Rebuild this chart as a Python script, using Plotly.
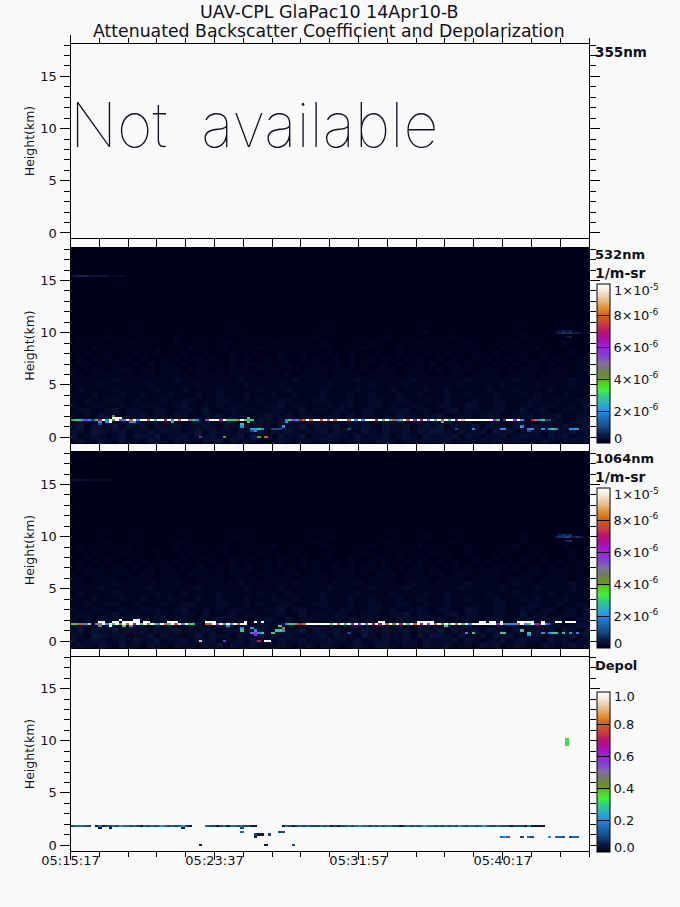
import numpy as np
import plotly.graph_objects as go

# time axis, seconds after 05:15:17
time_ticks = [0, 500, 1000, 1500]
time_labels = ["05:15:17", "05:23:37", "05:31:57", "05:40:17"]
height_ticks = [0, 5, 10, 15]

# colour table
color_stops = [
    [0.00, "#00001a"], [0.05, "#0a1a40"], [0.10, "#154a80"], [0.17, "#1c74c8"],
    [0.20, "#2090f0"], [0.25, "#30b0c0"], [0.30, "#30d080"], [0.33, "#40f040"],
    [0.38, "#50d020"], [0.40, "#60a010"], [0.45, "#708050"], [0.50, "#806fa0"],
    [0.55, "#8040d0"], [0.60, "#a020e0"], [0.65, "#a810b0"], [0.70, "#b81070"],
    [0.75, "#c84040"], [0.80, "#d06010"], [0.85, "#e09030"], [0.90, "#e8c090"],
    [0.95, "#f4e4d0"], [1.00, "#ffffff"],
]

# end labels of the colour bars sit inside the bar ends, so they are annotations further down
backscatter_ticks = [0, 2, 4, 6, 8, 10]
backscatter_labels = ["", "2×10<sup>-6</sup>", "4×10<sup>-6</sup>", "6×10<sup>-6</sup>", "8×10<sup>-6</sup>", ""]
depol_ticks = [0, 0.2, 0.4, 0.6, 0.8, 1.0]
depol_labels = ["", "0.2", "0.4", "0.6", "0.8", ""]

# faint background, 24 s x 0.5 km blocks, units of 1e-7, from -0.5 km upward
background_rows = [
    "232132142213221322132413223112321231322123213321221322312213231232113212323",
    "312321231322412231323122314221322312232213122312321322231321223123221323122",
    "321432231223132212413221322413232122313221421322313243213223142312231322413",
    "241322413231322312232132231321322413223122321322312324132231322131232213213",
    "132213221321223112312232112321322132211232212322113221322312231132212321232",
    "212132112231221321122312211232131221122131221213221223112212321122312231122",
    "122112312211221122131122122112211312212211221122312211231221122113122112212",
    "211221121122211231121212211122312211121221122121122112211321122112212211213",
    "112112211211121122111221121211221112211121122112211211211121122111221121122",
    "111211121121112111211211121112112111211121121112112111211211121112121112111",
    "121111211111211121111211111211121111211112111121111211211111211121111211112",
    "111121111112111111211111121111211111121111121111211111112111112111121111211",
    "111111211111111211111111211111112111111112111111121111111211111121111111211",
    "110111101111011110111101111011110111101111011110111101111011110111101111011",
    "101110111011011101110101110111011011101110101110111011011101110101110111011",
    "011010110101011010110101011010110101011010110101011010110101011010110101010",
    "010101001010010100101001010010100101001010010100101001010010100101001010010",
    "001001000100100010010001001000100100010010001001000100100010010001001000100",
    "000100010000100001000010000100001000010000100001000010000100001000010000100",
    "010000001000000100000010000001000000100000010000001000000100000010000001000",
    "000001000000000100000000010000000001000000000100000000010000000001000000000",
    "000000000100000000000001000000000000010000000000000100000000000001000000000",
]

# very faint features, level 1 = 2e-7
faint_532 = {
    15.4: [(0, "2333322222211111")],
    10.2: [(141, "2323")],
    10.0: [(140, "23434232")],
    9.6: [(143, "23")],
}
faint_1064 = {
    15.4: [(0, "222211111111")],
    10.2: [(141, "3434")],
    10.0: [(140, "34454343")],
    9.6: [(143, "34")],
}

# layer cells, 12 s x 0.2 km, {height: [(first profile, levels)]}, level 0-a in 1e-6 units
rows_532 = {
    2.0: [(12, "4")],
    1.8: [(12, "aa5"), (51, "3"), (14, "a")],
    1.6: [(0, "4332621"), (7, "37a2a4a62a8a2aa8a3aa7a2a8aa532"), (39, "6aaa7a3338a"), (50, "353"),
          (62, "236278a8aa8a8a8aaa8a2a2aaa7a3a3823a8a6a7a2a3a8a3a7a9aa2a3"),
          (116, "aaaaaa"), (122, "63"), (125, "1aa6a2"), (133, "78231"), (138, "1")],
    1.4: [(8, "2"), (10, "2a"), (17, "22"), (29, "3"), (51, "3"), (62, "2"), (107, "3")],
    1.2: [(49, "3"), (8, "1")],
    1.0: [(49, "2"), (61, "2"), (130, "2")],
    0.8: [(52, "2232"), (58, "1"), (59, "11"), (80, "1"), (111, "1"), (116, "2"), (124, "22"),
          (132, "22"), (136, "2"), (138, "232"), (144, "222")],
    0.6: [(52, "12"), (132, "1")],
    0.0: [(37, "7"), (44, "4"), (54, "4"), (56, "8")],
}
rows_1064 = {
    2.0: [(14, "a"), (18, "a"), (19, "a")],
    1.8: [(8, "aa"), (12, "aa"), (15, "aaaaa"), (21, "aa"), (28, "aaa"), (39, "aaa"), (50, "a"), (53, "a"),
          (55, "a"), (89, "aa"), (100, "aaaaa"), (118, "aa"), (121, "aa"), (124, "a"), (129, "aaa"),
          (132, "aa"), (136, "a"), (140, "aa"), (143, "aaa")],
    1.6: [(0, "338829"), (7, "28a2a3a4a8a7a3a4a32a83a8a2a33"), (39, "88a6a2a2a8a6"), (50, "a"),
          (62, "233878aaaaa"), (73, "aa3a8a3a7a6a2a7a7a8a4a7a3a8a7a6a8a4a3a8a3a2a7"),
          (117, "aaaaaa"), (123, "6a2"), (126, "2228a2"), (132, "3a67a21")],
    1.4: [(8, "2"), (11, "a"), (15, "3"), (17, "2"), (45, "2"), (60, "3"), (108, "3")],
    1.2: [(49, "2"), (52, "2"), (61, "8")],
    1.0: [(49, "3"), (53, "2"), (59, "33"), (61, "2"), (130, "3")],
    0.8: [(52, "26"), (54, "23"), (58, "3"), (80, "1"), (114, "2"), (116, "3"), (124, "33"),
          (132, "3"), (136, "2"), (138, "23"), (140, "3"), (142, "3"), (144, "2"), (146, "2")],
    0.6: [(53, "6"), (132, "2")],
    0.0: [(37, "9"), (44, "6"), (54, "7"), (56, "aa")],
}
# depol cells, level 1 = 0.05
rows_depol = {
    10.2: [(143, "7")],
    10.0: [(143, "7")],
    9.8: [(143, "6")],
    9.6: [(143, "7")],
    1.8: [(0, "233322"), (7, "1312232433232132323432323421"), (39, "322123133232211"),
          (61, "13212323222"), (72, "32312122323433232323322123232343323232324323323432232343323232"),
          (125, "2212221"), (133, "1111")],
    1.6: [(8, "1"), (11, "1"), (32, "1"), (49, "2")],
    1.2: [(49, "3"), (60, "22")],
    1.0: [(53, "21"), (55, "1"), (57, "2")],
    0.8: [(53, "1"), (124, "343"), (130, "2"), (132, "32"), (138, "4"), (140, "332"), (144, "233")],
    0.0: [(37, "1"), (56, "1"), (64, "2")],
}

n_profiles = 150
profile_time = [i * 12 + 6 for i in range(n_profiles)]
gate_height = [-0.4 + i * 0.2 for i in range(94)]


def cells_to_grid(rows, scale):
    z = np.full((len(gate_height), n_profiles), np.nan)
    for height, segments in rows.items():
        row = int(round((height + 0.4) / 0.2))
        for start, levels in segments:
            for k, level in enumerate(levels):
                z[row, start + k] = int(level, 16) * scale
    return z


# background grid, padded with zero rows up to the panel top
bg_time = [i * 24 + 12 for i in range(75)]
bg_height = [-0.5 + i * 0.5 for i in range(39)]
bg_z = [[int(c) * 0.1 for c in r] for r in background_rows]
bg_z += [[0.0] * 75 for i in range(len(bg_height) - len(bg_z))]

# pixel layout of the four panels
W, H = 680, 907
px_left, px_right = 70.5, 589
panel_px = [(44, 238), (248, 443), (452, 648), (657, 851)]
panel_range = [(-0.48, 18.1), (-0.57, 18.12), (-0.67, 18.12), (-0.57, 18.03)]


def fx(px):
    return px / W


def fy(py):
    return 1 - py / H


fig = go.Figure()


def colorbar(top_px, bottom_px, ticks, labels):
    return dict(x=fx(596.5), xanchor="left", y=fy(bottom_px), yanchor="bottom",
                len=bottom_px - top_px, lenmode="pixels", thickness=13, thicknessmode="pixels",
                xpad=0, ypad=0, outlinecolor="black", outlinewidth=1, tickmode="array",
                tickvals=ticks, ticktext=labels, ticks="inside", ticklen=13, tickcolor="black",
                tickwidth=1, tickfont=dict(family="DejaVu Sans", size=13, color="#101020"))


# panel 1 has no data
fig.add_trace(go.Scatter(x=[], y=[], xaxis="x", yaxis="y", showlegend=False))

panels = [(rows_532, faint_532, 284, 443), (rows_1064, faint_1064, 488, 648)]
for n, (rows, faint, top_px, bottom_px) in enumerate(panels):
    axis = str(n + 2)
    layer_z = cells_to_grid(rows, 1)
    layer_z = np.where(np.isnan(layer_z), cells_to_grid(faint, 0.2), layer_z)
    fig.add_trace(go.Heatmap(x=bg_time, y=bg_height, z=bg_z, zmin=0, zmax=10, colorscale=color_stops,
                             showscale=False, xaxis="x" + axis, yaxis="y" + axis))
    fig.add_trace(go.Heatmap(x=profile_time, y=gate_height, z=layer_z, zmin=0, zmax=10,
                             colorscale=color_stops, xaxis="x" + axis, yaxis="y" + axis,
                             colorbar=colorbar(top_px, bottom_px, backscatter_ticks, backscatter_labels)))

fig.add_trace(go.Heatmap(x=profile_time, y=gate_height, z=cells_to_grid(rows_depol, 0.05), zmin=0, zmax=1,
                         colorscale=color_stops, xaxis="x4", yaxis="y4",
                         colorbar=colorbar(692, 852, depol_ticks, depol_labels)))

layout = dict(width=W, height=H, paper_bgcolor="#fafafa", plot_bgcolor="#fafafa", showlegend=False,
              margin=dict(l=0, r=0, t=0, b=0, autoexpand=False))

for n in range(4):
    suffix = "" if n == 0 else str(n + 1)
    top_px, bottom_px = panel_px[n]
    layout["xaxis" + suffix] = dict(
        domain=[fx(px_left), fx(px_right)], range=[0, 1800], anchor="y" + suffix,
        tickmode="array", tickvals=time_ticks, ticktext=time_labels, showticklabels=n == 3,
        ticks="outside", ticklen=8, tickwidth=1, tickcolor="black", showline=True, linecolor="black",
        linewidth=1, mirror="ticks", showgrid=False, zeroline=False, ticklabelstandoff=-11,
        tickfont=dict(family="DejaVu Sans", size=13, color="#101020"),
        minor=dict(tickmode="linear", tick0=0, dtick=100, ticks="outside", ticklen=5, tickwidth=1,
                   tickcolor="black", showgrid=False))
    layout["yaxis" + suffix] = dict(
        domain=[fy(bottom_px), fy(top_px)], range=list(panel_range[n]), anchor="x" + suffix,
        tickmode="array", tickvals=height_ticks, ticks="outside", ticklen=10, tickwidth=1,
        tickcolor="black", showline=True, linecolor="black", linewidth=1, mirror="ticks",
        showgrid=False, zeroline=False, title=dict(text="Height(km)", standoff=2,
        font=dict(family="DejaVu Sans", size=12.5, color="#101020")),
        tickfont=dict(family="DejaVu Sans", size=13, color="#101020"),
        minor=dict(tickmode="linear", tick0=0, dtick=1, ticks="outside", ticklen=6, tickwidth=1,
                   tickcolor="black", showgrid=False))


def label(text, px, py, size, anchor="left", family="DejaVu Sans", weight=None):
    return dict(text=text, x=fx(px), y=fy(py), xref="paper", yref="paper", xanchor=anchor, yanchor="middle",
                showarrow=False, font=dict(family=family, size=size, color="#101020", weight=weight))


layout["annotations"] = [
    label("UAV-CPL GlaPac10 14Apr10-B", 329, 12, 17.5, "center"),
    label("Attenuated Backscatter Coefficient and Depolarization", 329, 31, 17.3, "center"),
    label("Not  available", 68, 125, 61, family="Inter", weight=100),
    label("355nm", 593, 52, 13.5, weight=700),
    label("532nm", 593, 254, 13, weight=700),
    label("1/m-sr", 593, 273, 14, weight=700),
    label("1064nm", 593, 458, 13, weight=700),
    label("1/m-sr", 593, 477, 14, weight=700),
    label("Depol", 593, 665, 13, weight=700),
    label("1×10<sup>-5</sup>", 612, 290, 13),
    label("0", 612, 439, 13),
    label("1×10<sup>-5</sup>", 612, 494, 13),
    label("0", 612, 643, 13),
    label("1.0", 612, 696, 13),
    label("0.0", 612, 847, 13),
]

fig.update_layout(**layout)
# the page's default body margin would shift the 680 px figure
fig.write_html("out.html", config={"displayModeBar": False},
               post_script="document.body.style.margin='0';document.body.style.background='#fafafa';")
